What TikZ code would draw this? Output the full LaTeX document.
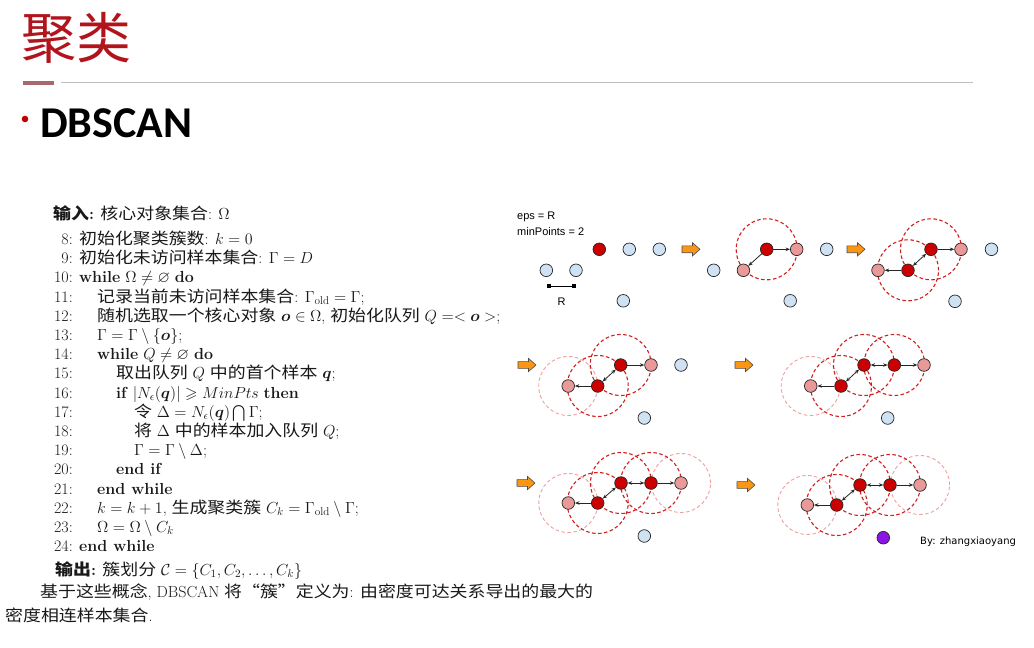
\RequirePackage{fix-cm}
\documentclass[tikz,border=0pt]{standalone}
\usepackage{amsmath,amssymb}
\usepackage{bm}
\usepackage{fontspec}
\newfontfamily\cjk[FakeStretch=1.12]{Noto Sans CJK SC}
\newfontfamily\cjktitle{Noto Sans CJK SC}
\newfontfamily\carlito{Carlito}
\newfontfamily\arial{Liberation Sans}
\newfontfamily\sig{DejaVu Sans}
\usetikzlibrary{arrows.meta,backgrounds}

\definecolor{titlered}{RGB}{178,20,28}
\definecolor{barmauve}{RGB}{168,104,112}
\definecolor{rulegray}{RGB}{191,191,191}
\definecolor{bulletred}{RGB}{192,0,0}
\definecolor{corered}{RGB}{204,0,0}
\definecolor{edgepink}{RGB}{234,153,153}
\definecolor{noiseblue}{RGB}{207,226,243}
\definecolor{outlpurple}{RGB}{140,20,230}
\definecolor{ringred}{RGB}{210,30,30}
\definecolor{ringfade}{RGB}{238,160,160}
\definecolor{arroworange}{RGB}{250,150,20}
\definecolor{inkgray}{RGB}{25,25,25}

\tikzset{
  alg/.style={anchor=base west, inner sep=0pt, text=inkgray, font=\fontsize{16}{19}\selectfont},
  num/.style={anchor=base east, inner sep=0pt, text=inkgray, font=\fontsize{16}{19}\selectfont},
  pt/.style={circle, draw=black!85, line width=0.7pt, minimum size=12.6pt, inner sep=0pt},
  cpt/.style={pt, fill=corered},
  bpt/.style={pt, fill=edgepink},
  npt/.style={pt, fill=noiseblue},
  opt/.style={pt, fill=outlpurple},
  ring/.style={draw=ringred, line width=1.1pt, dash pattern=on 3.5pt off 2.5pt},
  fadering/.style={draw=ringfade, line width=0.9pt, dash pattern=on 3.5pt off 2.5pt},
  link/.style={-{Stealth[length=4.5pt,width=3.5pt]}, line width=0.8pt, draw=black!85},
  dlink/.style={{Stealth[length=4.5pt,width=3.5pt]}-{Stealth[length=4.5pt,width=3.5pt]}, line width=0.8pt, draw=black!85},
  stepmark/.style={fill=arroworange, draw=black!70, line width=0.6pt, line join=miter},
  small/.style={inner sep=0pt, font=\arial\fontsize{11}{13}\selectfont}
}

% block arrow pointing right, left end at the given point
\newcommand{\steparrow}[1]{%
  \path[stepmark] #1 ++(0,-3.4) -- ++(10.5,0) -- ++(0,-3.2) -- ++(7.5,6.6)
    -- ++(-7.5,6.6) -- ++(0,-3.2) -- ++(-10.5,0) -- cycle;}

\begin{document}
\begin{tikzpicture}[x=1pt,y=-1pt]
\useasboundingbox (0,0) rectangle (1034,648);
\begin{scope}[on background layer]
  \fill[white] (0,0) rectangle (1034,648);
\end{scope}

% ---- heading ----
\node[anchor=west, inner sep=0pt, text=titlered, font=\cjktitle\fontsize{55}{58}\selectfont] (title) at (21,38) {聚类};
\fill[barmauve] (23,81.2) rectangle (54,84.6);
\draw[rulegray, line width=1.3pt] (61,82.6) -- (973,82.6);
\fill[bulletred] (25,119) circle (3.3pt);
\node[anchor=base west, inner sep=0pt, font=\carlito\bfseries\fontsize{44}{48}\selectfont] (dbscan) at (40,137) {DBSCAN};

% ---- algorithm ----
\node[alg] (inp) at (53,219.5) {{\bfseries\cjk 输入}\textbf{:} {\cjk 核心对象集合}: $\Omega$};
\node[num] (n8) at (73,244.5) {8:};
\node[alg] (l8) at (79,244.5) {{\cjk 初始化聚类簇数}: $k=0$};
\node[num] (n9) at (73,263.7) {9:};
\node[alg] (l9) at (79,263.7) {{\cjk 初始化未访问样本集合}: $\Gamma = D$};
\node[num] (n10) at (73,282.9) {10:};
\node[alg] (l10) at (79,282.9) {\textbf{while} $\Omega \neq \varnothing$ \textbf{do}};
\node[num] (n11) at (73,302.1) {11:};
\node[alg] (l11) at (97,302.1) {{\cjk 记录当前未访问样本集合}: $\Gamma_{\mathrm{old}} = \Gamma$;};
\node[num] (n12) at (73,321.3) {12:};
\node[alg] (l12) at (97,321.3) {{\cjk 随机选取一个核心对象} $\bm{o}\in\Omega$, {\cjk 初始化队列} $Q =< \bm{o} >$;};
\node[num] (n13) at (73,340.5) {13:};
\node[alg] (l13) at (97,340.5) {$\Gamma = \Gamma \setminus \{\bm{o}\}$;};
\node[num] (n14) at (73,359.7) {14:};
\node[alg] (l14) at (97,359.7) {\textbf{while} $Q \neq \varnothing$ \textbf{do}};
\node[num] (n15) at (73,378.9) {15:};
\node[alg] (l15) at (116,378.9) {{\cjk 取出队列} $Q$ {\cjk 中的首个样本} $\bm{q}$;};
\node[num] (n16) at (73,398.1) {16:};
\node[alg] (l16) at (116,398.1) {\textbf{if} $|N_\epsilon(\bm{q})| \geqslant MinPts$ \textbf{then}};
\node[num] (n17) at (73,417.3) {17:};
\node[alg] (l17) at (134,417.3) {{\cjk 令} $\Delta = N_\epsilon(\bm{q}) \bigcap \Gamma$;};
\node[num] (n18) at (73,436.5) {18:};
\node[alg] (l18) at (134,436.5) {{\cjk 将} $\Delta$ {\cjk 中的样本加入队列} $Q$;};
\node[num] (n19) at (73,455.7) {19:};
\node[alg] (l19) at (134,455.7) {$\Gamma = \Gamma \setminus \Delta$;};
\node[num] (n20) at (73,474.9) {20:};
\node[alg] (l20) at (116,474.9) {\textbf{end if}};
\node[num] (n21) at (73,494.1) {21:};
\node[alg] (l21) at (97,494.1) {\textbf{end while}};
\node[num] (n22) at (73,513.3) {22:};
\node[alg] (l22) at (97,513.3) {$k = k+1$, {\cjk 生成聚类簇} $C_k = \Gamma_{\mathrm{old}} \setminus \Gamma$;};
\node[num] (n23) at (73,532.5) {23:};
\node[alg] (l23) at (97,532.5) {$\Omega = \Omega \setminus C_k$};
\node[num] (n24) at (73,551.7) {24:};
\node[alg] (l24) at (79,551.7) {\textbf{end while}};
\node[alg] (outp) at (55,575.5) {{\bfseries\cjk 输出}\textbf{:} {\cjk 簇划分} $\mathcal{C} = \{C_1, C_2, \ldots, C_k\}$};
\node[alg] (para1) at (40,597.5) {{\cjk 基于这些概念}, DBSCAN {\cjk 将“簇”定义为}: {\cjk 由密度可达关系导出的最大的}};
\node[alg] (para2) at (5,621.5) {{\cjk 密度相连样本集合}.};

% ---- parameters ----
\node[small, anchor=west] (eps) at (517,217) {eps = R};
\node[small, anchor=west] (minp) at (517,232) {minPoints = 2};
\coordinate (rl) at (549,286);
\coordinate (rr) at (574,286);
\draw[line width=0.8pt] (rl) -- (rr);
\fill (rl) ++(-1.6,-1.6) rectangle ++(3.2,3.2);
\fill (rr) ++(-1.6,-1.6) rectangle ++(3.2,3.2);
\node[small] (rlab) at (561.7,302) {R};

% ---- step 1: a first core point ----
\begin{scope}[shift={(599.3,249.3)}]
  \node[npt] (f1a) at (-53,21) {};
  \node[npt] (f1b) at (-23.3,21) {};
  \node[cpt] (f1c) at (0,0) {};
  \node[npt] (f1d) at (30,0) {};
  \node[npt] (f1e) at (60,0) {};
  \node[npt] (f1f) at (24,51.5) {};
\end{scope}
\steparrow{(682,249.3)}

% ---- step 2 ----
\begin{scope}[shift={(766.7,249.3)}]
  \node[npt] (f2a) at (-53,21) {};
  \node[bpt] (f2b) at (-23.3,21) {};
  \node[cpt] (f2c) at (0,0) {};
  \node[bpt] (f2d) at (30,0) {};
  \node[npt] (f2e) at (60,0) {};
  \node[npt] (f2f) at (23.5,51.5) {};
\end{scope}
\begin{scope}[on background layer]
  \draw[ring] (f2c.center) circle[radius=30.5pt];
\end{scope}
\draw[link] (f2c) -- (f2b);
\draw[link] (f2c) -- (f2d);
\steparrow{(847,249.3)}

% ---- step 3 ----
\begin{scope}[shift={(931,249.3)}]
  \node[bpt] (f3a) at (-53,21) {};
  \node[cpt] (f3b) at (-23,21) {};
  \node[cpt] (f3c) at (0,0) {};
  \node[bpt] (f3d) at (30,0) {};
  \node[npt] (f3e) at (60.5,0) {};
  \node[npt] (f3f) at (24,52) {};
\end{scope}
\begin{scope}[on background layer]
  \draw[ring] (f3c.center) circle[radius=30.5pt];
  \draw[ring] (f3b.center) circle[radius=30.5pt];
\end{scope}
\draw[link] (f3b) -- (f3a);
\draw[dlink] (f3b) -- (f3c);
\draw[link] (f3c) -- (f3d);

% ---- step 4 ----
\steparrow{(518,365)}
\begin{scope}[shift={(620.7,365)}]
  \node[bpt] (f4a) at (-52.5,21) {};
  \node[cpt] (f4b) at (-23,21) {};
  \node[cpt] (f4c) at (0,0) {};
  \node[bpt] (f4d) at (30.3,0) {};
  \node[npt] (f4e) at (60.3,0) {};
  \node[npt] (f4f) at (23.6,53) {};
\end{scope}
\begin{scope}[on background layer]
  \draw[fadering] (f4a.center) circle[radius=29.5pt];
  \draw[ring] (f4b.center) circle[radius=30.5pt];
  \draw[ring] (f4c.center) circle[radius=30.5pt];
\end{scope}
\draw[link] (f4b) -- (f4a);
\draw[dlink] (f4b) -- (f4c);
\draw[link] (f4c) -- (f4d);

% ---- step 5 ----
\steparrow{(735,365)}
\begin{scope}[shift={(864,365)}]
  \node[bpt] (f5a) at (-53.3,21) {};
  \node[cpt] (f5b) at (-23,21) {};
  \node[cpt] (f5c) at (0,0) {};
  \node[cpt] (f5d) at (30.3,0) {};
  \node[bpt] (f5e) at (60,0) {};
  \node[npt] (f5f) at (23.7,53) {};
\end{scope}
\begin{scope}[on background layer]
  \draw[fadering] (f5a.center) circle[radius=29.5pt];
  \draw[ring] (f5b.center) circle[radius=30.5pt];
  \draw[ring] (f5c.center) circle[radius=30.5pt];
  \draw[ring] (f5d.center) circle[radius=30.5pt];
\end{scope}
\draw[link] (f5b) -- (f5a);
\draw[dlink] (f5b) -- (f5c);
\draw[dlink] (f5c) -- (f5d);
\draw[link] (f5d) -- (f5e);

% ---- step 6 ----
\steparrow{(517,483)}
\begin{scope}[shift={(621,483)}]
  \node[bpt] (f6a) at (-52.7,20) {};
  \node[cpt] (f6b) at (-23.3,20) {};
  \node[cpt] (f6c) at (0,0) {};
  \node[cpt] (f6d) at (30,0) {};
  \node[bpt] (f6e) at (60,0) {};
  \node[npt] (f6f) at (23.3,53) {};
\end{scope}
\begin{scope}[on background layer]
  \draw[fadering] (f6a.center) circle[radius=29.5pt];
  \draw[fadering] (f6e.center) circle[radius=29.5pt];
  \draw[ring] (f6b.center) circle[radius=30.5pt];
  \draw[ring] (f6c.center) circle[radius=30.5pt];
  \draw[ring] (f6d.center) circle[radius=30.5pt];
\end{scope}
\draw[link] (f6b) -- (f6a);
\draw[dlink] (f6b) -- (f6c);
\draw[dlink] (f6c) -- (f6d);
\draw[link] (f6d) -- (f6e);

% ---- step 7: the remaining point is noise ----
\steparrow{(737,485)}
\begin{scope}[shift={(860,485)}]
  \node[bpt] (f7a) at (-52.7,20) {};
  \node[cpt] (f7b) at (-23.3,20) {};
  \node[cpt] (f7c) at (0,0) {};
  \node[cpt] (f7d) at (30,0) {};
  \node[bpt] (f7e) at (60,0) {};
  \node[opt] (f7f) at (23.3,52.7) {};
\end{scope}
\begin{scope}[on background layer]
  \draw[fadering] (f7a.center) circle[radius=29.5pt];
  \draw[fadering] (f7e.center) circle[radius=29.5pt];
  \draw[ring] (f7b.center) circle[radius=30.5pt];
  \draw[ring] (f7c.center) circle[radius=30.5pt];
  \draw[ring] (f7d.center) circle[radius=30.5pt];
\end{scope}
\draw[link] (f7b) -- (f7a);
\draw[dlink] (f7b) -- (f7c);
\draw[dlink] (f7c) -- (f7d);
\draw[link] (f7d) -- (f7e);

\node[anchor=west, inner sep=0pt, font=\sig\fontsize{10}{12}\selectfont] (author) at (920,541.5) {By: zhangxiaoyang};
\end{tikzpicture}
\end{document}
